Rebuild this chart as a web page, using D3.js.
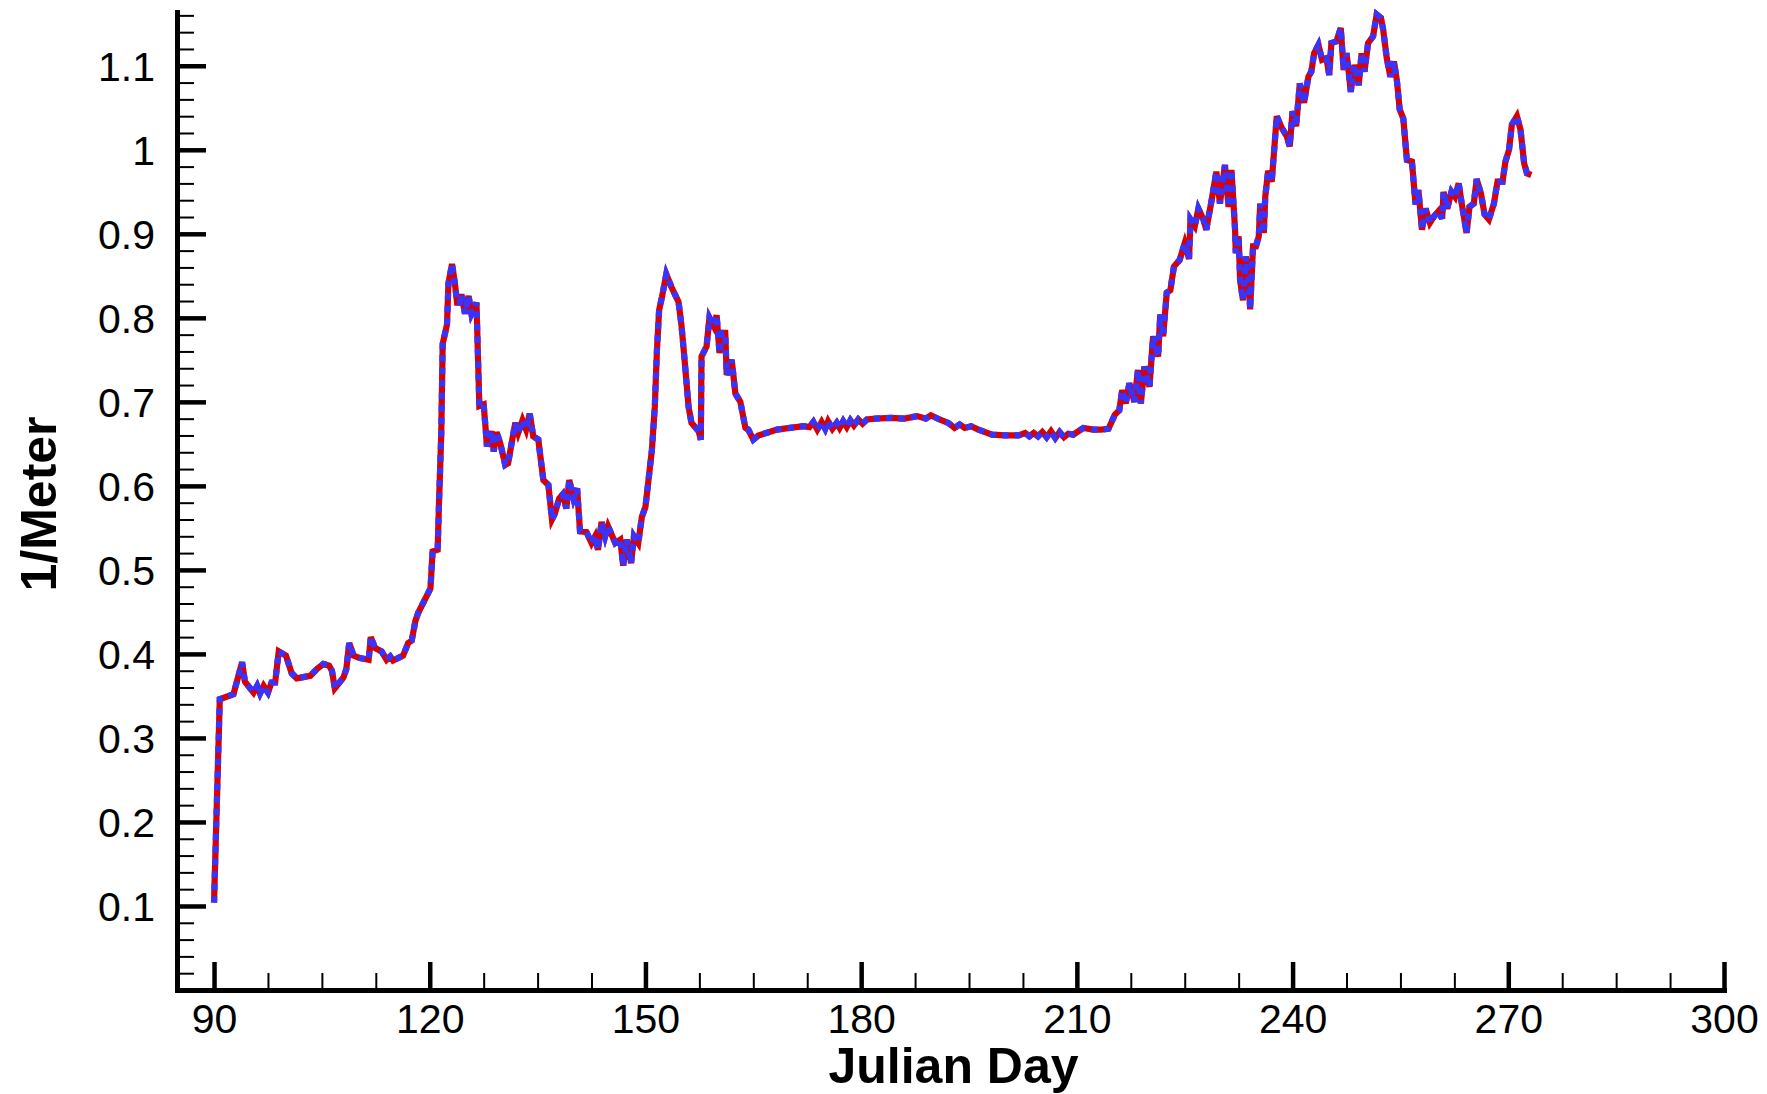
<!DOCTYPE html>
<html>
<head>
<meta charset="utf-8">
<script src="https://cdn.jsdelivr.net/npm/d3@7"></script>
<style>
  html, body { margin: 0; padding: 0; background: #fff; }
  svg { display: block; }
  text { font-family: "Liberation Sans", Arial, Helvetica, sans-serif; fill: #000; }
</style>
</head>
<body>
<svg id="chart" width="1767" height="1094"></svg>
<script>
// ---- data ----
const days = [
  90.0, 90.8, 92.7, 93.9, 94.3, 95.5, 96.0, 96.4, 96.9, 97.5, 98.0, 98.5, 99.0, 100.0, 100.8, 101.5,
  103.4, 104.3, 105.2, 106.0, 106.4, 106.8, 108.0, 108.4, 108.8, 109.4, 110.3, 111.5, 111.8, 112.4,
  113.3, 114.0, 114.5, 114.9, 116.3, 117.0, 117.5, 118.0, 118.4, 120.1, 120.4, 121.1, 121.3, 121.6,
  121.8, 122.4, 122.6, 123.1, 123.5, 123.8, 124.2, 124.4, 124.9, 125.4, 125.8, 126.5, 126.9, 127.5,
  127.8, 127.95, 128.6, 128.9, 129.3, 129.8, 130.5, 130.9, 131.6, 131.9, 132.3, 132.9, 133.4, 133.9,
  134.4, 135.1, 135.8, 136.5, 137.0, 137.4, 138.0, 138.5, 139.0, 139.4, 140.0, 140.5, 140.9, 141.8,
  142.5, 143.0, 143.4, 143.9, 144.4, 144.8, 145.8, 146.5, 146.9, 147.4, 148.0, 148.4, 149.0, 149.5,
  150.0, 150.9, 151.3, 151.6, 151.9, 152.3, 152.9, 153.6, 154.6, 155.0, 155.4, 156.0, 156.4, 157.4,
  157.7, 157.8, 158.5, 158.9, 159.5, 159.9, 160.3, 160.6, 161.1, 161.3, 162.0, 162.5, 163.2, 163.9,
  164.3, 165.0, 165.7, 166.8, 168.3, 170.1, 172.0, 172.8, 173.35, 173.9, 174.5, 175.0, 175.4, 176.0,
  176.6, 177.0, 177.5, 178.0, 178.5, 179.0, 179.6, 180.2, 180.8, 182.0, 184.1, 186.0, 187.8, 189.0,
  189.7, 190.9, 192.1, 193.0, 193.7, 194.4, 195.3, 196.3, 198.2, 200.0, 201.9, 202.8, 203.4, 204.0,
  204.6, 205.2, 205.8, 206.4, 207.0, 207.6, 208.2, 208.8, 209.5, 210.9, 212.3, 213.4, 214.4, 215.3,
  215.9, 216.3, 216.8, 217.3, 218.0, 218.5, 218.9, 219.4, 220.1, 220.6, 221.3, 221.6, 222.0, 222.5,
  223.0, 223.5, 224.3, 225.0, 225.6, 225.8, 226.4, 226.9, 227.6, 228.0, 228.7, 229.4, 229.9, 230.6,
  231.1, 231.5, 232.0, 232.1, 232.5, 232.7, 233.1, 233.5, 233.9, 234.1, 234.5, 234.9, 235.3, 235.5,
  236.0, 236.2, 236.6, 237.1, 237.8, 238.5, 239.2, 239.6, 240.0, 240.5, 241.0, 241.6, 242.2, 242.6,
  243.0, 243.6, 244.1, 244.7, 245.1, 245.4, 246.1, 246.7, 247.1, 247.5, 247.8, 248.1, 248.6, 249.2,
  249.6, 250.0, 250.5, 251.2, 251.7, 252.3, 252.6, 253.1, 253.6, 254.1, 254.5, 254.9, 255.4, 255.9,
  256.6, 257.1, 257.5, 258.0, 258.5, 259.1, 259.7, 260.3, 260.8, 261.0, 261.5, 262.1, 262.6, 263.1,
  263.6, 264.2, 264.6, 265.2, 265.6, 266.2, 266.7, 267.3, 268.0, 268.5, 269.2, 269.6, 270.1, 270.5,
  271.2, 271.7, 272.2, 272.6, 273.2
];
const redSeries = [
  0.104, 0.346, 0.352, 0.390, 0.367, 0.354, 0.362, 0.353, 0.362, 0.354, 0.366, 0.366, 0.403, 0.398, 0.377, 0.371,
  0.374, 0.382, 0.388, 0.386, 0.380, 0.359, 0.372, 0.382, 0.413, 0.398, 0.395, 0.393, 0.420, 0.407,
  0.403, 0.393, 0.397, 0.392, 0.398, 0.413, 0.416, 0.439, 0.449, 0.478, 0.522, 0.524, 0.583, 0.661,
  0.769, 0.792, 0.841, 0.864, 0.841, 0.818, 0.818, 0.828, 0.805, 0.826, 0.805, 0.818, 0.695, 0.697,
  0.665, 0.647, 0.665, 0.641, 0.664, 0.651, 0.625, 0.627, 0.661, 0.675, 0.663, 0.678, 0.667, 0.686,
  0.659, 0.655, 0.607, 0.601, 0.560, 0.567, 0.585, 0.590, 0.573, 0.607, 0.585, 0.597, 0.546, 0.545,
  0.532, 0.540, 0.524, 0.557, 0.540, 0.552, 0.532, 0.536, 0.505, 0.536, 0.508, 0.540, 0.532, 0.563,
  0.575, 0.643, 0.694, 0.762, 0.809, 0.825, 0.852, 0.837, 0.819, 0.792, 0.754, 0.694, 0.675, 0.665,
  0.655, 0.754, 0.766, 0.800, 0.790, 0.803, 0.758, 0.782, 0.782, 0.732, 0.750, 0.710, 0.700, 0.669,
  0.667, 0.655, 0.660, 0.663, 0.667, 0.669, 0.671, 0.670, 0.676, 0.667, 0.676, 0.668, 0.677, 0.668,
  0.675, 0.669, 0.677, 0.670, 0.678, 0.672, 0.679, 0.674, 0.679, 0.680, 0.681, 0.680, 0.683, 0.680,
  0.684, 0.679, 0.675, 0.669, 0.673, 0.669, 0.671, 0.667, 0.661, 0.660, 0.660, 0.663, 0.659, 0.663,
  0.659, 0.664, 0.658, 0.665, 0.657, 0.664, 0.658, 0.662, 0.661, 0.669, 0.667, 0.667, 0.668, 0.685,
  0.690, 0.714, 0.698, 0.722, 0.700, 0.738, 0.698, 0.742, 0.718, 0.778, 0.754, 0.804, 0.778, 0.830,
  0.833, 0.861, 0.869, 0.889, 0.870, 0.917, 0.909, 0.930, 0.917, 0.905, 0.938, 0.974, 0.936, 0.982,
  0.932, 0.976, 0.905, 0.877, 0.897, 0.845, 0.821, 0.873, 0.845, 0.810, 0.885, 0.885, 0.897, 0.936,
  0.901, 0.944, 0.975, 0.962, 1.040, 1.026, 1.016, 1.004, 1.046, 1.028, 1.079, 1.056, 1.087, 1.093,
  1.115, 1.125, 1.107, 1.109, 1.089, 1.127, 1.129, 1.145, 1.095, 1.115, 1.093, 1.069, 1.101, 1.077,
  1.115, 1.093, 1.127, 1.135, 1.161, 1.157, 1.143, 1.109, 1.087, 1.105, 1.083, 1.048, 1.037, 0.988,
  0.986, 0.935, 0.952, 0.905, 0.930, 0.913, 0.921, 0.927, 0.918, 0.950, 0.930, 0.950, 0.944, 0.960,
  0.932, 0.901, 0.932, 0.936, 0.965, 0.948, 0.923, 0.917, 0.936, 0.962, 0.962, 0.986, 1.000, 1.030,
  1.040, 1.024, 0.984, 0.972, 0.970
];
// second (blue, dashed) series overlays the first one exactly in the reference
const blueSeries = redSeries.slice();

const xMajorTicks = [90, 120, 150, 180, 210, 240, 270, 300];
const xMinorTicks = [97.5, 105, 112.5, 127.5, 135, 142.5, 157.5, 165, 172.5, 187.5, 195, 202.5,
                     217.5, 225, 232.5, 247.5, 255, 262.5, 277.5, 285, 292.5];
const yMajorTicks = [0.1, 0.2, 0.3, 0.4, 0.5, 0.6, 0.7, 0.8, 0.9, 1.0, 1.1];
const yMinorTicks = [0.02, 0.04, 0.06, 0.08, 0.12, 0.14, 0.16, 0.18, 0.22, 0.24, 0.26, 0.28,
                     0.32, 0.34, 0.36, 0.38, 0.42, 0.44, 0.46, 0.48, 0.52, 0.54, 0.56, 0.58,
                     0.62, 0.64, 0.66, 0.68, 0.72, 0.74, 0.76, 0.78, 0.82, 0.84, 0.86, 0.88,
                     0.92, 0.94, 0.96, 0.98, 1.02, 1.04, 1.06, 1.08, 1.12, 1.14, 1.16];
const xTitle = "Julian Day";
const yTitle = "1/Meter";

// ---- layout ----
const svg = d3.select("#chart");
const padL = 177, padR = 1724, padT = 12, padB = 990;
const x = d3.scaleLinear().domain([84.85, 300]).range([padL, padR]);
const y = d3.scaleLinear().domain([0, 1.164]).range([padB, padT]);

// minor ticks
const yMinor = d3.axisLeft(y).tickValues(yMinorTicks).tickSizeInner(-17).tickSizeOuter(0).tickFormat("");
const yMinorG = svg.append("g").attr("transform", `translate(${padL},0)`).call(yMinor);
yMinorG.select(".domain").remove();
yMinorG.selectAll(".tick line").attr("stroke", "#000").attr("stroke-width", 2);

const xMinor = d3.axisBottom(x).tickValues(xMinorTicks).tickSizeInner(-17).tickSizeOuter(0).tickFormat("");
const xMinorG = svg.append("g").attr("transform", `translate(0,${padB})`).call(xMinor);
xMinorG.select(".domain").remove();
xMinorG.selectAll(".tick line").attr("stroke", "#000").attr("stroke-width", 2);

// major ticks + labels
const yAxis = d3.axisLeft(y).tickValues(yMajorTicks).tickSizeInner(-29).tickSizeOuter(0)
  .tickPadding(22).tickFormat(d => d3.format("~g")(d));
const yG = svg.append("g").attr("transform", `translate(${padL},0)`).call(yAxis);
yG.select(".domain").attr("stroke", "#000").attr("stroke-width", 5).attr("stroke-linecap", "square");
yG.selectAll(".tick line").attr("stroke", "#000").attr("stroke-width", 4.5);
yG.selectAll(".tick text").attr("font-size", 41).attr("font-family", "Liberation Sans, Arial, sans-serif")
  .attr("dy", "0.35em").attr("fill", "#000");

const xAxis = d3.axisBottom(x).tickValues(xMajorTicks).tickSizeInner(-28).tickSizeOuter(0)
  .tickPadding(14).tickFormat(d3.format("d"));
const xG = svg.append("g").attr("transform", `translate(0,${padB})`).call(xAxis);
xG.select(".domain").attr("stroke", "#000").attr("stroke-width", 5).attr("stroke-linecap", "square");
xG.selectAll(".tick line").attr("stroke", "#000").attr("stroke-width", 4.5);
xG.selectAll(".tick text").attr("font-size", 41).attr("font-family", "Liberation Sans, Arial, sans-serif")
  .attr("fill", "#000");

// ---- lines ----
const pts = s => days.map((d, i) => [d, s[i]]);
const line = d3.line().x(d => x(d[0])).y(d => y(d[1]));

svg.append("path").datum(pts(redSeries))
  .attr("d", line).attr("fill", "none")
  .attr("stroke", "#d80000").attr("stroke-width", 6.2)
  .attr("stroke-linejoin", "miter").attr("stroke-miterlimit", 4);

svg.append("path").datum(pts(blueSeries))
  .attr("d", line).attr("fill", "none")
  .attr("stroke", "#3535ff").attr("stroke-width", 6.2)
  .attr("stroke-dasharray", "6.5,6")
  .attr("stroke-linejoin", "miter").attr("stroke-miterlimit", 4);

// ---- titles ----
svg.append("text").attr("x", (padL + padR) / 2 + 3).attr("y", 1083)
  .attr("text-anchor", "middle").attr("font-size", 50).attr("font-weight", "bold")
  .text(xTitle);

svg.append("text").attr("transform", `translate(56,${(padT + padB) / 2 + 3}) rotate(-90)`)
  .attr("text-anchor", "middle").attr("font-size", 50).attr("font-weight", "bold")
  .text(yTitle);
</script>
</body>
</html>
